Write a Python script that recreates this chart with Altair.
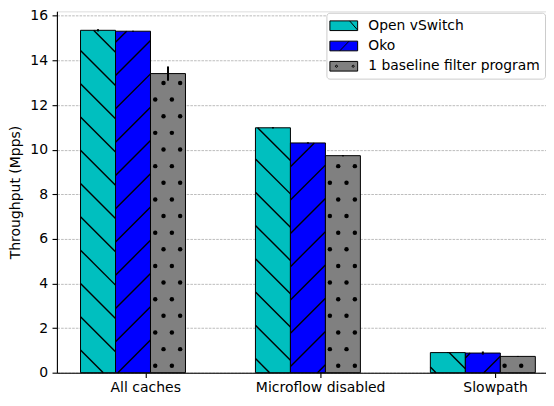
import math
import altair as alt
import pandas as pd

# ---------------- data ----------------
categories = ["All caches", "Microflow disabled", "Slowpath"]
series = ["Open vSwitch", "Oko", "1 baseline filter program"]
ovs_values = [15.35, 10.98, 0.90]
oko_values = [15.31, 10.30, 0.88]
baseline_values = [13.41, 9.73, 0.73]
ovs_errors = [0.05, 0.03, 0.02]
oko_errors = [0.02, 0.03, 0.07]
baseline_errors = [0.32, 0.03, 0.02]
y_tick_values = [0, 2, 4, 6, 8, 10, 12, 14, 16]
bar_colors = ["#00bfbf", "#0000ff", "#808080"]

# ---------------- layout / style ----------------
W, H = 490, 362
X_MIN = -0.505
X_MAX = X_MIN + W / 175.25
Y_MIN, Y_MAX = 0.0, 16.2
BAR_OFFSETS = [-0.27, -0.07, 0.13]
BAR_WIDTH = 0.2
PPX = W / (X_MAX - X_MIN)
PPY = H / (Y_MAX - Y_MIN)
OX, OY = 56.0, 11.6          # page position of the plot origin (hatch phase)
PERIOD = 100.0 / 3.0         # hatch line period
DOT_STEP = 100.0 / 6.0       # dot spacing
FONT = "DejaVu Sans"
FS = 14

values = [ovs_values, oko_values, baseline_values]
errors = [ovs_errors, oko_errors, baseline_errors]

rows = []
for si, s in enumerate(series):
    for ci, c in enumerate(categories):
        center = ci + BAR_OFFSETS[si]
        v = values[si][ci]
        e = errors[si][ci]
        rows.append(dict(series=s, category=c, center=center,
                         x0=center - BAR_WIDTH / 2, x1=center + BAR_WIDTH / 2,
                         value=v, lo=v - e, hi=v + e,
                         lx=center - 0.02, ly=v / 2))
bars = pd.DataFrame(rows)


def page_x(v):
    return OX + (v - X_MIN) * PPX


def page_y(y):
    return OY + H - (y - Y_MIN) * PPY


def data_x(px):
    return X_MIN + (px - OX) / PPX


def data_y(py):
    return Y_MIN + (OY + H - py) / PPY


seg_rows = []
dot_rows = []
for _, r in bars.iterrows():
    xa, xb = page_x(r.x0), page_x(r.x1)
    yt, yb = page_y(r.value), page_y(0)
    si = series.index(r.series)
    if si == 0:  # '\' hatch : y = x + c
        phase = 4.5
        cmin, cmax = yt - xb, yb - xa
        k = math.floor((cmin - phase) / PERIOD)
        while True:
            c = phase + k * PERIOD
            k += 1
            if c > cmax:
                break
            p1 = max(xa, yt - c)
            p2 = min(xb, yb - c)
            if p2 - p1 > 0.5:
                seg_rows.append(dict(xa=data_x(p1), ya=data_y(p1 + c),
                                     xb=data_x(p2), yb=data_y(p2 + c)))
    elif si == 1:  # '/' hatch : y = c - x
        phase = 24.0
        cmin, cmax = yt + xa, yb + xb
        k = math.floor((cmin - phase) / PERIOD)
        while True:
            c = phase + k * PERIOD
            k += 1
            if c > cmax:
                break
            p1 = max(xa, c - yb)
            p2 = min(xb, c - yt)
            if p2 - p1 > 0.5:
                seg_rows.append(dict(xa=data_x(p1), ya=data_y(c - p1),
                                     xb=data_x(p2), yb=data_y(c - p2)))
    else:  # '.' hatch
        j = math.floor(yt / DOT_STEP)
        while True:
            ry = j * DOT_STEP
            j += 1
            if ry > yb:
                break
            if ry < yt + 1.5 or ry > yb - 1.5:
                continue
            even = (round(ry / DOT_STEP) % 2 == 0)
            ph = 4.5 if even else 12.8
            i = math.floor((xa - ph) / DOT_STEP)
            while True:
                rx = ph + i * DOT_STEP
                i += 1
                if rx > xb:
                    break
                if rx < xa + 1.5 or rx > xb - 1.5:
                    continue
                dot_rows.append(dict(dx=data_x(rx), dy=data_y(ry)))

hatch_df = pd.DataFrame(seg_rows)
dots_df = pd.DataFrame(dot_rows)

rect = "M-1.267,-0.647H2.44V0.647H-1.267Z"
legend_paths = [
    rect + " M1.37,-0.647L2.44,0.58",
    rect + " M0.05,0.647L1.3,-0.647",
    rect + " M-0.53,0A0.14,0.14 0 1,1 -0.25,0A0.14,0.14 0 1,1 -0.53,0Z"
         + " M1.7,0A0.14,0.14 0 1,1 1.98,0A0.14,0.14 0 1,1 1.7,0Z",
]

label_expr = " : ".join(
    f"datum.value == {i} ? '{c}'" for i, c in enumerate(categories)) + " : ''"

x_scale = alt.Scale(domain=[X_MIN, X_MAX], nice=False, zero=False)
y_scale = alt.Scale(domain=[Y_MIN, Y_MAX], nice=False, zero=False)
color_scale = alt.Scale(domain=series, range=bar_colors)
shape_scale = alt.Scale(domain=series, range=legend_paths)

x_axis = alt.Axis(values=[0, 1, 2], labelExpr=label_expr, title=None, grid=False,
                  tickSize=4.9, tickWidth=1.1, tickColor="black",
                  domainColor="black", domainWidth=1.1, labelPadding=2.5,
                  labelFont=FONT, labelFontSize=FS, labelColor="black",
                  labelFlush=False, labelOverlap=False)
y_axis = alt.Axis(values=y_tick_values, title="Throughput (Mpps)", grid=True,
                  gridColor="#a0a0a0", gridDash=[2.6, 1.1], gridWidth=0.7,
                  tickSize=4.9, tickWidth=1.1, tickColor="black",
                  domainColor="black", domainWidth=1.1, labelPadding=4.5,
                  labelFont=FONT, labelFontSize=FS, labelColor="black",
                  titleFont=FONT, titleFontSize=FS, titleFontWeight="normal",
                  titleColor="black", titlePadding=7, labelFlush=False)

legend = alt.Legend(orient="none", legendX=270, legendY=1.4, title=None,
                    labelFont=FONT, labelFontSize=13.9, labelColor="black",
                    symbolSize=225, symbolStrokeWidth=1, symbolStrokeColor="black",
                    padding=5, strokeColor="#cccccc", fillColor="white",
                    cornerRadius=3, rowPadding=5.3, labelOffset=21, labelLimit=400)

base = alt.Chart(bars)

# legend carrier: drawn first, hidden below the bars
legend_layer = base.mark_point(
    filled=True, stroke="black", strokeWidth=1, size=225).encode(
    x=alt.X("lx:Q", scale=x_scale, axis=x_axis),
    y=alt.Y("ly:Q", scale=y_scale, axis=y_axis),
    color=alt.Color("series:N", scale=color_scale, legend=legend),
    shape=alt.Shape("series:N", scale=shape_scale, legend=legend),
    opacity=alt.value(1),
)

bar_layer = base.mark_bar(stroke="black", strokeWidth=1).encode(
    x=alt.X("x0:Q", scale=x_scale, axis=x_axis),
    x2="x1:Q",
    y=alt.Y("value:Q", scale=y_scale, axis=y_axis),
    y2=alt.datum(0),
    color=alt.Color("series:N", scale=color_scale, legend=None),
)

hatch_layer = alt.Chart(hatch_df).mark_rule(color="black", strokeWidth=1.4).encode(
    x=alt.X("xa:Q", scale=x_scale, axis=x_axis),
    x2="xb:Q",
    y=alt.Y("ya:Q", scale=y_scale, axis=y_axis),
    y2="yb:Q",
)

dot_layer = alt.Chart(dots_df).mark_circle(color="black", size=20, opacity=1).encode(
    x=alt.X("dx:Q", scale=x_scale, axis=x_axis),
    y=alt.Y("dy:Q", scale=y_scale, axis=y_axis),
)

err_layer = base.mark_rule(color="black", strokeWidth=2).encode(
    x=alt.X("center:Q", scale=x_scale, axis=x_axis),
    y=alt.Y("lo:Q", scale=y_scale, axis=y_axis),
    y2="hi:Q",
)

chart = alt.layer(legend_layer, bar_layer, hatch_layer, dot_layer, err_layer).properties(
    width=W, height=H,
    padding={"left": 0, "top": 0, "right": 0, "bottom": 0},
).configure_view(strokeWidth=0).configure(font=FONT)

chart.save("out.html", embed_options={"renderer": "svg", "actions": False})
